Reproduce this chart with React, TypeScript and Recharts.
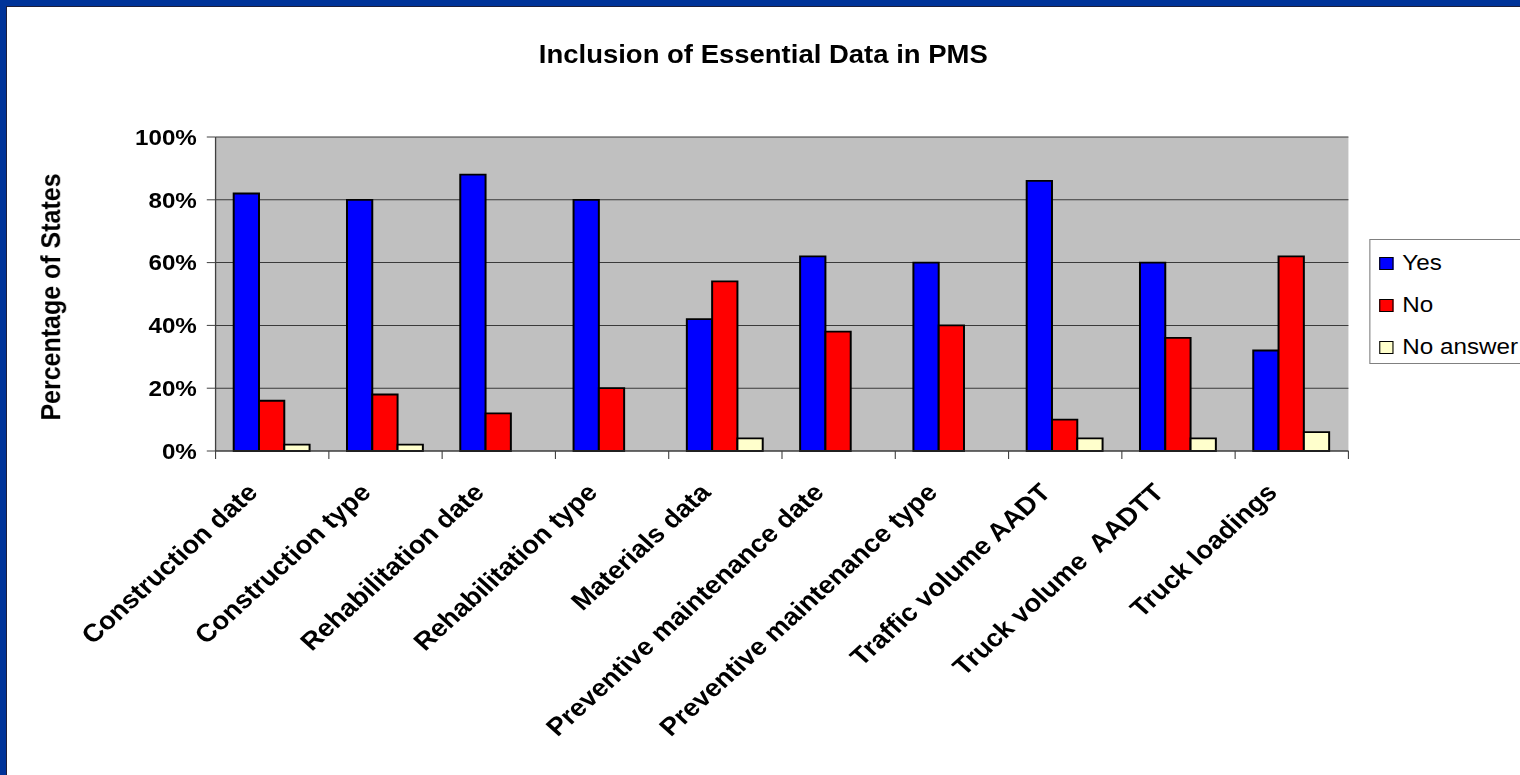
import React from 'react';
import {
  BarChart,
  Bar,
  XAxis,
  YAxis,
  CartesianGrid,
  Legend,
} from 'recharts';

const categories = [
  'Construction date',
  'Construction type',
  'Rehabilitation date',
  'Rehabilitation type',
  'Materials data',
  'Preventive maintenance date',
  'Preventive maintenance type',
  'Traffic volume AADT',
  'Truck volume  AADTT',
  'Truck loadings',
];
const yesValues = [82, 80, 88, 80, 42, 62, 60, 86, 60, 32];
const noValues = [16, 18, 12, 20, 54, 38, 40, 10, 36, 62];
const noAnswerValues = [2, 2, 0, 0, 4, 0, 0, 4, 4, 6];
const yTicks = [0, 20, 40, 60, 80, 100];

const series = [
  { key: 'yes', name: 'Yes', color: '#0000FF' },
  { key: 'no', name: 'No', color: '#FF0000' },
  { key: 'noAnswer', name: 'No answer', color: '#FFFFCC' },
];

const data = categories.map((name, i) => ({
  name,
  yes: yesValues[i],
  no: noValues[i],
  noAnswer: noAnswerValues[i],
}));

// the picture is stretched sideways, so the chart is drawn narrower and scaled
const OUT_W = 1520;
const OUT_H = 775;
const W = 1382;
const SCALE_X = OUT_W / W;
const MARGIN = { top: 137, right: 156, left: 0, bottom: 0 };
const Y_AXIS_W = 196;
const X_AXIS_H = 324;
const PLOT_W = W - MARGIN.left - MARGIN.right - Y_AXIS_W;
const CAT_W = PLOT_W / categories.length;
const FONT = "'Liberation Sans', Arial, sans-serif";

const CategoryTick = (props: any) => {
  const { x, y, payload, index } = props;
  const axisY = y - 8;
  const tx = x - 12;
  const ty = axisY + 43;
  return (
    <g>
      <line x1={x - CAT_W / 2} y1={axisY} x2={x - CAT_W / 2} y2={axisY + 8} stroke="#404040" />
      {index === categories.length - 1 && (
        <line x1={x + CAT_W / 2} y1={axisY} x2={x + CAT_W / 2} y2={axisY + 8} stroke="#404040" />
      )}
      <text
        x={tx}
        y={ty}
        transform={`rotate(-45 ${tx} ${ty})`}
        textAnchor="end"
        fontFamily={FONT}
        fontWeight="bold"
        fontSize={25}
        fill="#000"
        style={{ whiteSpace: 'pre' }}
      >
        {payload.value}
      </text>
    </g>
  );
};

const LegendBox = () => (
  <div
    style={{
      border: '1px solid #808080',
      background: '#fff',
      width: 150,
      height: 125,
      boxSizing: 'border-box',
      paddingTop: 2,
      fontFamily: FONT,
    }}
  >
    {series.map((s) => (
      <div key={s.key} style={{ display: 'flex', alignItems: 'center', height: 42 }}>
        <span
          style={{
            display: 'inline-block',
            width: 13,
            height: 13,
            boxSizing: 'border-box',
            border: '1.5px solid #000',
            background: s.color,
            marginLeft: 8,
            marginRight: 8,
          }}
        />
        <span style={{ fontSize: 22, color: '#000', whiteSpace: 'nowrap' }}>{s.name}</span>
      </div>
    ))}
  </div>
);

export default function App() {
  return (
    <div
      style={{
        position: 'absolute',
        top: 0,
        left: 0,
        width: OUT_W,
        height: OUT_H,
        overflow: 'hidden',
        background: '#fff',
      }}
    >
      <div
        style={{
          position: 'absolute',
          top: 0,
          left: 0,
          width: W,
          height: OUT_H,
          transform: `scaleX(${SCALE_X})`,
          transformOrigin: '0 0',
        }}
      >
        <BarChart
          width={W}
          height={OUT_H}
          data={data}
          margin={MARGIN}
          barCategoryGap="16%"
          barGap={0}
        >
          <CartesianGrid vertical={false} fill="#C0C0C0" stroke="#3a3a3a" strokeWidth={1} />
          <XAxis
            dataKey="name"
            height={X_AXIS_H}
            interval={0}
            tickLine={false}
            tickSize={8}
            tickMargin={0}
            axisLine={{ stroke: '#404040', strokeWidth: 1.2 }}
            tick={<CategoryTick />}
          />
          <YAxis
            width={Y_AXIS_W}
            domain={[0, 100]}
            ticks={yTicks}
            interval={0}
            tickFormatter={(v: number) => `${v}%`}
            tickSize={8}
            tickMargin={9}
            tickLine={{ stroke: '#404040' }}
            axisLine={{ stroke: '#404040', strokeWidth: 1.2 }}
            tick={{ fill: '#000', fontFamily: FONT, fontWeight: 'bold', fontSize: 22 }}
          />
          <YAxis
            yAxisId="right"
            orientation="right"
            width={0}
            domain={[0, 100]}
            tick={false}
            tickLine={false}
            axisLine={{ stroke: '#808080' }}
          />
          <Legend
            layout="horizontal"
            verticalAlign="middle"
            align="center"
            content={<LegendBox />}
            wrapperStyle={{ left: 1245, top: 239, width: 150, height: 125 }}
          />
          {series.map((s) => (
            <Bar
              key={s.key}
              dataKey={s.key}
              name={s.name}
              fill={s.color}
              stroke="#000"
              strokeWidth={1.8}
              isAnimationActive={false}
            />
          ))}
        </BarChart>
        <svg
          width={W}
          height={OUT_H}
          style={{ position: 'absolute', top: 0, left: 0, pointerEvents: 'none' }}
        >
          <text
            x={694}
            y={63}
            textAnchor="middle"
            fontFamily={FONT}
            fontWeight="bold"
            fontSize={25}
            fill="#000"
          >
            Inclusion of Essential Data in PMS
          </text>
          <text
            x={55}
            y={297}
            transform="rotate(-90 55 297)"
            textAnchor="middle"
            fontFamily={FONT}
            fontWeight="bold"
            fontSize={25}
            fill="#000"
          >
            Percentage of States
          </text>
        </svg>
      </div>
      <div style={{ position: 'absolute', top: 0, left: 0, width: OUT_W, height: 6, background: '#003399' }} />
      <div style={{ position: 'absolute', top: 6, left: 6, width: OUT_W, height: 1, background: '#1e1e3a' }} />
      <div style={{ position: 'absolute', top: 0, left: 0, width: 6, height: OUT_H, background: '#003399' }} />
      <div style={{ position: 'absolute', top: 6, left: 6, width: 1, height: OUT_H, background: '#1e1e3a' }} />
    </div>
  );
}
